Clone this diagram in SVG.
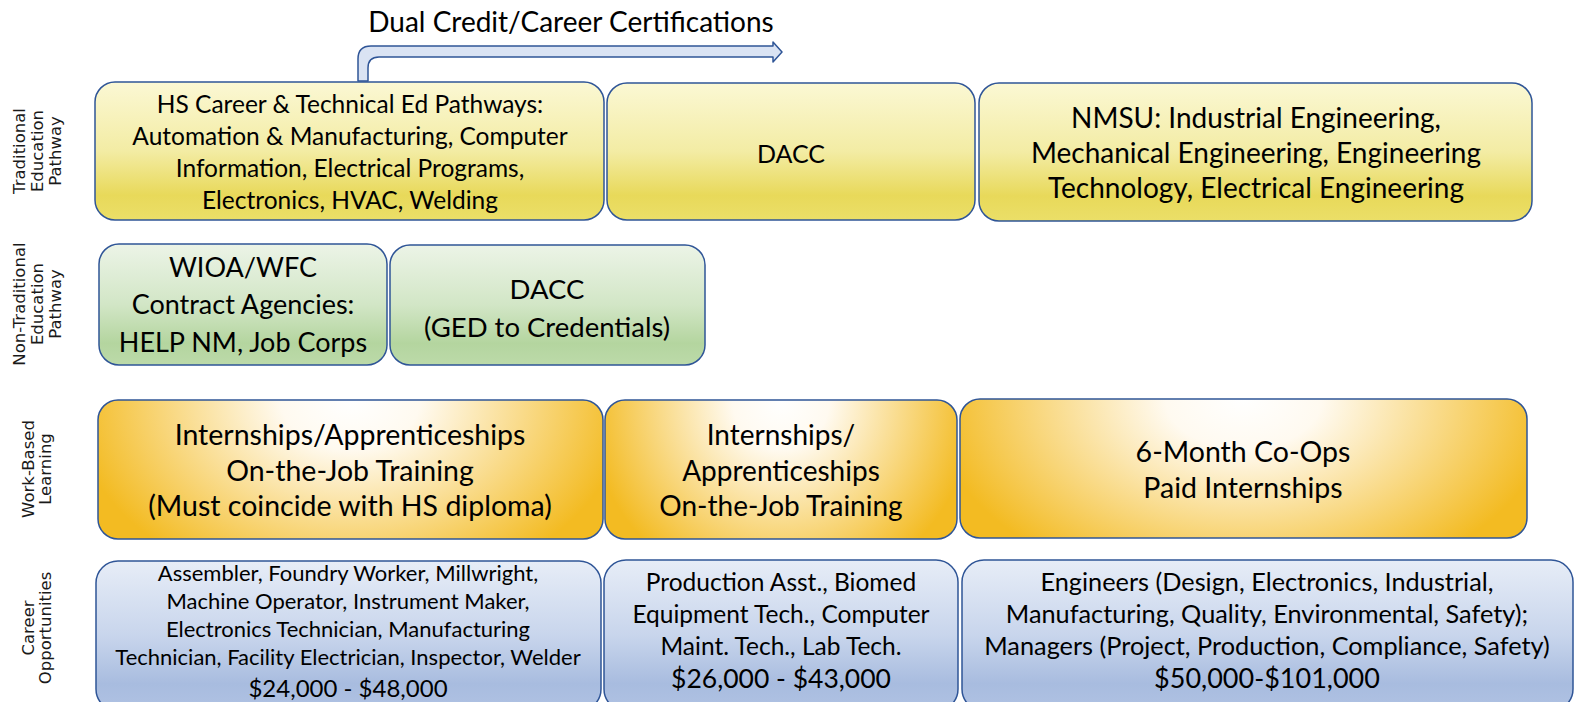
<svg xmlns="http://www.w3.org/2000/svg" width="1580" height="702" viewBox="0 0 1580 702">
<defs>
<linearGradient id="gY" x1="0" y1="0" x2="0" y2="1">
<stop offset="0" stop-color="#fbf8d4"/><stop offset="0.5" stop-color="#f3eca4"/><stop offset="0.82" stop-color="#e8d95a"/><stop offset="1" stop-color="#ebdf68"/>
</linearGradient>
<linearGradient id="gG" x1="0" y1="0" x2="0" y2="1">
<stop offset="0" stop-color="#ecf4e7"/><stop offset="0.5" stop-color="#d2e6c6"/><stop offset="0.82" stop-color="#b4d59f"/><stop offset="1" stop-color="#bcdaa9"/>
</linearGradient>
<linearGradient id="gB" x1="0" y1="0" x2="0" y2="1">
<stop offset="0" stop-color="#e7edf7"/><stop offset="0.5" stop-color="#c8d5ec"/><stop offset="0.82" stop-color="#a8bcdf"/><stop offset="1" stop-color="#b0c2e3"/>
</linearGradient>
<radialGradient id="gO" cx="0.5" cy="0" r="0.55" gradientTransform="translate(0.5,0) scale(1,2.6) translate(-0.5,0)">
<stop offset="0" stop-color="#ffffff"/><stop offset="0.25" stop-color="#fffaf0"/><stop offset="1" stop-color="#f3bb22"/>
</radialGradient>
<style>
.box{stroke:#2f5597;stroke-width:1.5}
.y{fill:url(#gY)}
.g{fill:url(#gG)}
.b{fill:url(#gB)}
.o{fill:url(#gO)}
text{font-family:Lato,"Liberation Sans",sans-serif;fill:#000;text-anchor:middle}
.lbl{font-family:"DejaVu Sans",Verdana,sans-serif;font-size:16.5px;fill:#1a1a1a}
</style>
</defs>
<rect width="1580" height="702" fill="#ffffff"/>

<g id="row-labels">
<text class="lbl" transform="translate(25,151) rotate(-90)">Traditional</text>
<text class="lbl" transform="translate(43,151) rotate(-90)">Education</text>
<text class="lbl" transform="translate(61,151) rotate(-90)">Pathway</text>
<text class="lbl" transform="translate(25,304) rotate(-90)">Non-Traditional</text>
<text class="lbl" transform="translate(43,304) rotate(-90)">Education</text>
<text class="lbl" transform="translate(61,304) rotate(-90)">Pathway</text>
<text class="lbl" transform="translate(34,469) rotate(-90)">Work-Based</text>
<text class="lbl" transform="translate(51,469) rotate(-90)">Learning</text>
<text class="lbl" transform="translate(34,628) rotate(-90)">Career</text>
<text class="lbl" transform="translate(51,628) rotate(-90)">Opportunities</text>
</g>

<g id="connectors">
<path d="M358,81 L358,59 Q358,46 371,46 L773,46 L773,42 L782,52 L773,62 L773,57 L379,57 Q368,57 368,68 L368,81 Z" fill="#dae3f3" stroke="#2f5597" stroke-width="1.5" stroke-linejoin="round"/>
<text x="571" y="32" style="font-size:28px">Dual Credit/Career Certifications</text>
</g>

<g id="hs-cte">
<rect class="box y" x="95" y="82" width="509" height="138" rx="20"/>
<text style="font-size:24.5px"><tspan x="350" y="113">HS Career &amp; Technical Ed Pathways:</tspan><tspan x="350" y="145">Automation &amp; Manufacturing, Computer</tspan><tspan x="350" y="177">Information, Electrical Programs,</tspan><tspan x="350" y="209">Electronics, HVAC, Welding</tspan></text>
</g>
<g id="dacc-trad">
<rect class="box y" x="607" y="83" width="368" height="137" rx="20"/>
<text x="791" y="163" style="font-size:25px">DACC</text>
</g>
<g id="nmsu">
<rect class="box y" x="979" y="83" width="553" height="138" rx="20"/>
<text style="font-size:28px"><tspan x="1256" y="128">NMSU: Industrial Engineering,</tspan><tspan x="1256" y="163">Mechanical Engineering, Engineering</tspan><tspan x="1256" y="198">Technology, Electrical Engineering</tspan></text>
</g>

<g id="wioa">
<rect class="box g" x="99" y="244" width="288" height="121" rx="20"/>
<text style="font-size:27px"><tspan x="243" y="277">WIOA/WFC</tspan><tspan x="243" y="314">Contract Agencies:</tspan><tspan x="243" y="352">HELP NM, Job Corps</tspan></text>
</g>
<g id="dacc-ged">
<rect class="box g" x="390" y="245" width="315" height="120" rx="20"/>
<text style="font-size:27.5px"><tspan x="547" y="299">DACC</tspan><tspan x="547" y="337">(GED to Credentials)</tspan></text>
</g>

<g id="wbl-hs">
<rect class="box o" x="98" y="400" width="505" height="139" rx="20"/>
<text style="font-size:28.5px"><tspan x="350" y="445">Internships/Apprenticeships</tspan><tspan x="350" y="481">On-the-Job Training</tspan><tspan x="350" y="516">(Must coincide with HS diploma)</tspan></text>
</g>
<g id="wbl-dacc">
<rect class="box o" x="605" y="400" width="352" height="139" rx="20"/>
<text style="font-size:28px"><tspan x="781" y="445">Internships/</tspan><tspan x="781" y="481">Apprenticeships</tspan><tspan x="781" y="516">On-the-Job Training</tspan></text>
</g>
<g id="wbl-nmsu">
<rect class="box o" x="960" y="399" width="567" height="139" rx="20"/>
<text style="font-size:28.5px"><tspan x="1243" y="462">6-Month Co-Ops</tspan><tspan x="1243" y="498">Paid Internships</tspan></text>
</g>

<g id="career-hs">
<rect class="box b" x="96" y="561" width="505" height="150" rx="22"/>
<text style="font-size:22px"><tspan x="348" y="581">Assembler, Foundry Worker, Millwright,</tspan><tspan x="348" y="609">Machine Operator, Instrument Maker,</tspan><tspan x="348" y="637">Electronics Technician, Manufacturing</tspan><tspan x="348" y="665">Technician, Facility Electrician, Inspector, Welder</tspan></text>
<text x="348" y="697" style="font-size:24px">$24,000 - $48,000</text>
</g>
<g id="career-dacc">
<rect class="box b" x="604" y="560" width="354" height="151" rx="22"/>
<text style="font-size:24.5px"><tspan x="781" y="591">Production Asst., Biomed</tspan><tspan x="781" y="623">Equipment Tech., Computer</tspan><tspan x="781" y="655">Maint. Tech., Lab Tech.</tspan></text>
<text x="781" y="688" style="font-size:26.5px">$26,000 - $43,000</text>
</g>
<g id="career-nmsu">
<rect class="box b" x="962" y="560" width="611" height="151" rx="22"/>
<text style="font-size:25.3px"><tspan x="1267" y="591">Engineers (Design, Electronics, Industrial,</tspan><tspan x="1267" y="623">Manufacturing, Quality, Environmental, Safety);</tspan><tspan x="1267" y="655">Managers (Project, Production, Compliance, Safety)</tspan></text>
<text x="1267" y="688" style="font-size:27px">$50,000-$101,000</text>
</g>
</svg>
